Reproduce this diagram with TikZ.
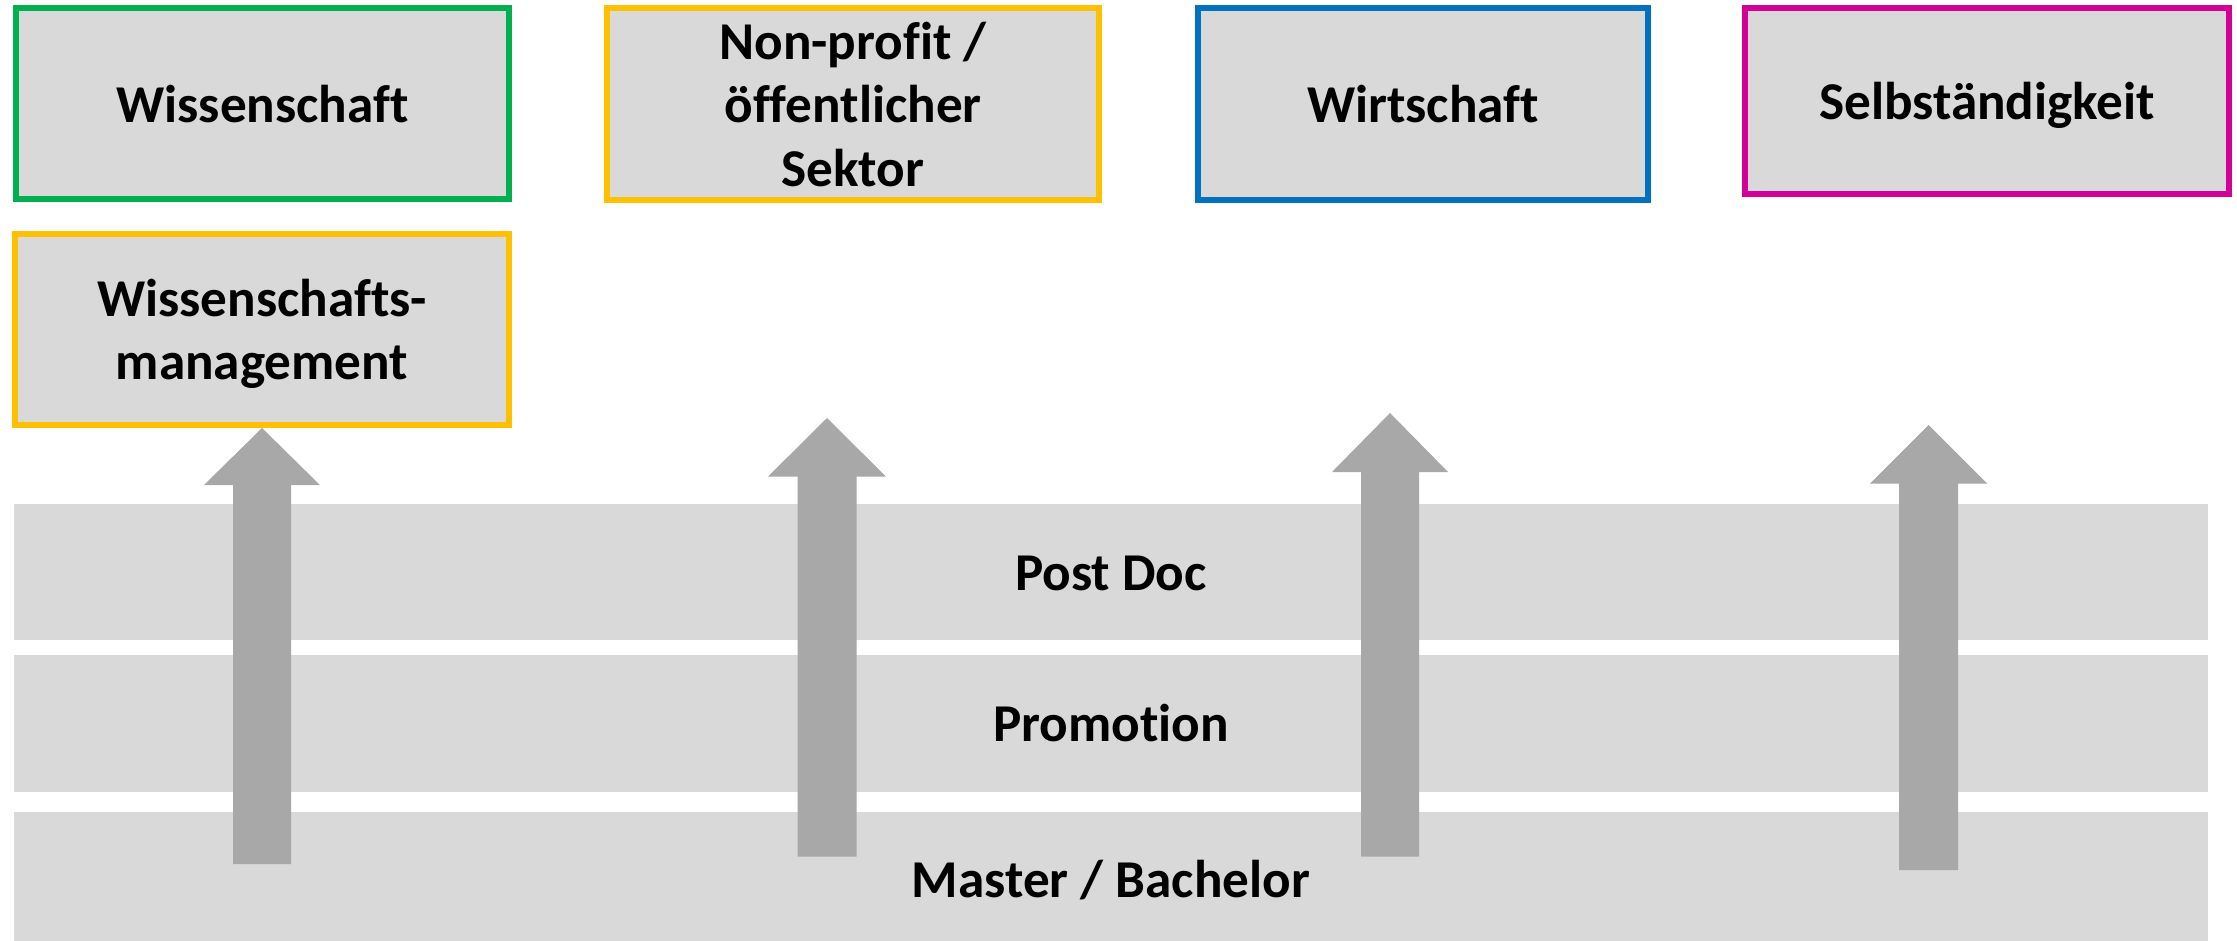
\documentclass[tikz,border=0pt]{standalone}
\usepackage{fontspec}
\setmainfont[Ligatures=NoCommon]{Carlito}
\definecolor{boxfill}{HTML}{D9D9D9}
\definecolor{arrowgray}{HTML}{A8A8A8}
\definecolor{cgreen}{HTML}{00B050}
\definecolor{corange}{HTML}{FFC000}
\definecolor{cblue}{HTML}{0070C0}
\definecolor{cmagenta}{HTML}{D20096}
\newcommand\blockup[6]{% cx, tip y, head base y, bottom y, half head, half shaft
  \fill[arrowgray] (#1-#6,#4) -- (#1-#6,#3) -- (#1-#5,#3) -- (#1,#2) -- (#1+#5,#3) -- (#1+#6,#3) -- (#1+#6,#4) -- cycle;}
\begin{document}
\begin{tikzpicture}[x=0.5pt,y=-0.5pt,
  careerbox/.style={draw, line width=2.85pt, fill=boxfill, inner sep=0pt, align=center,
    font=\fontsize{26.6pt}{31.75pt}\selectfont\bfseries, text depth=0pt},
  band/.style={fill=boxfill, inner sep=0pt, minimum width=1097pt},
  bandlabel/.style={inner sep=0pt, anchor=base, font=\fontsize{26.6pt}{31.75pt}\selectfont\bfseries}]
\useasboundingbox (0,0) rectangle (2237,941);
% levels
\node[band, minimum height=68.25pt] (b1) at (1111,571.75) {};
\node[band, minimum height=68.3pt] (b2) at (1111,723.3) {};
\node[band, minimum height=64.65pt] (b3) at (1111,876.35) {};
\node[bandlabel] (postdoc) at (1111,590.5) {Post Doc};
\node[bandlabel] (promo) at (1111,741) {Promotion};
\node[bandlabel] (master) at (1111,897) {Master / Bachelor};
% career boxes
\node[careerbox, draw=cgreen, minimum width=246.65pt, minimum height=95.65pt] (wiss) at (262.5,103.5) {Wissenschaft};
\node[careerbox, draw=corange, minimum width=247.15pt, minimum height=95.65pt] (mgmt) at (262,329.5) {Wissenschafts-\\management};
\node[careerbox, draw=corange, minimum width=246.15pt, minimum height=96.15pt] (npo) at (853,104) {Non-profit /\\öffentlicher\\Sektor};
\node[careerbox, draw=cblue, minimum width=225.15pt, minimum height=96.15pt] (wirt) at (1423,104) {Wirtschaft};
\node[careerbox, draw=cmagenta, minimum width=242.15pt, minimum height=93.15pt] (selb) at (1987,101) {Selbständigkeit};
% arrows
\blockup{262}{428}{485}{864}{58}{29}
\blockup{827}{418}{476.6}{856.5}{59}{29.5}
\blockup{1390}{413}{472}{856.5}{58}{29}
\blockup{1928.5}{425}{483.5}{870}{58.5}{29.5}
\end{tikzpicture}
\end{document}
